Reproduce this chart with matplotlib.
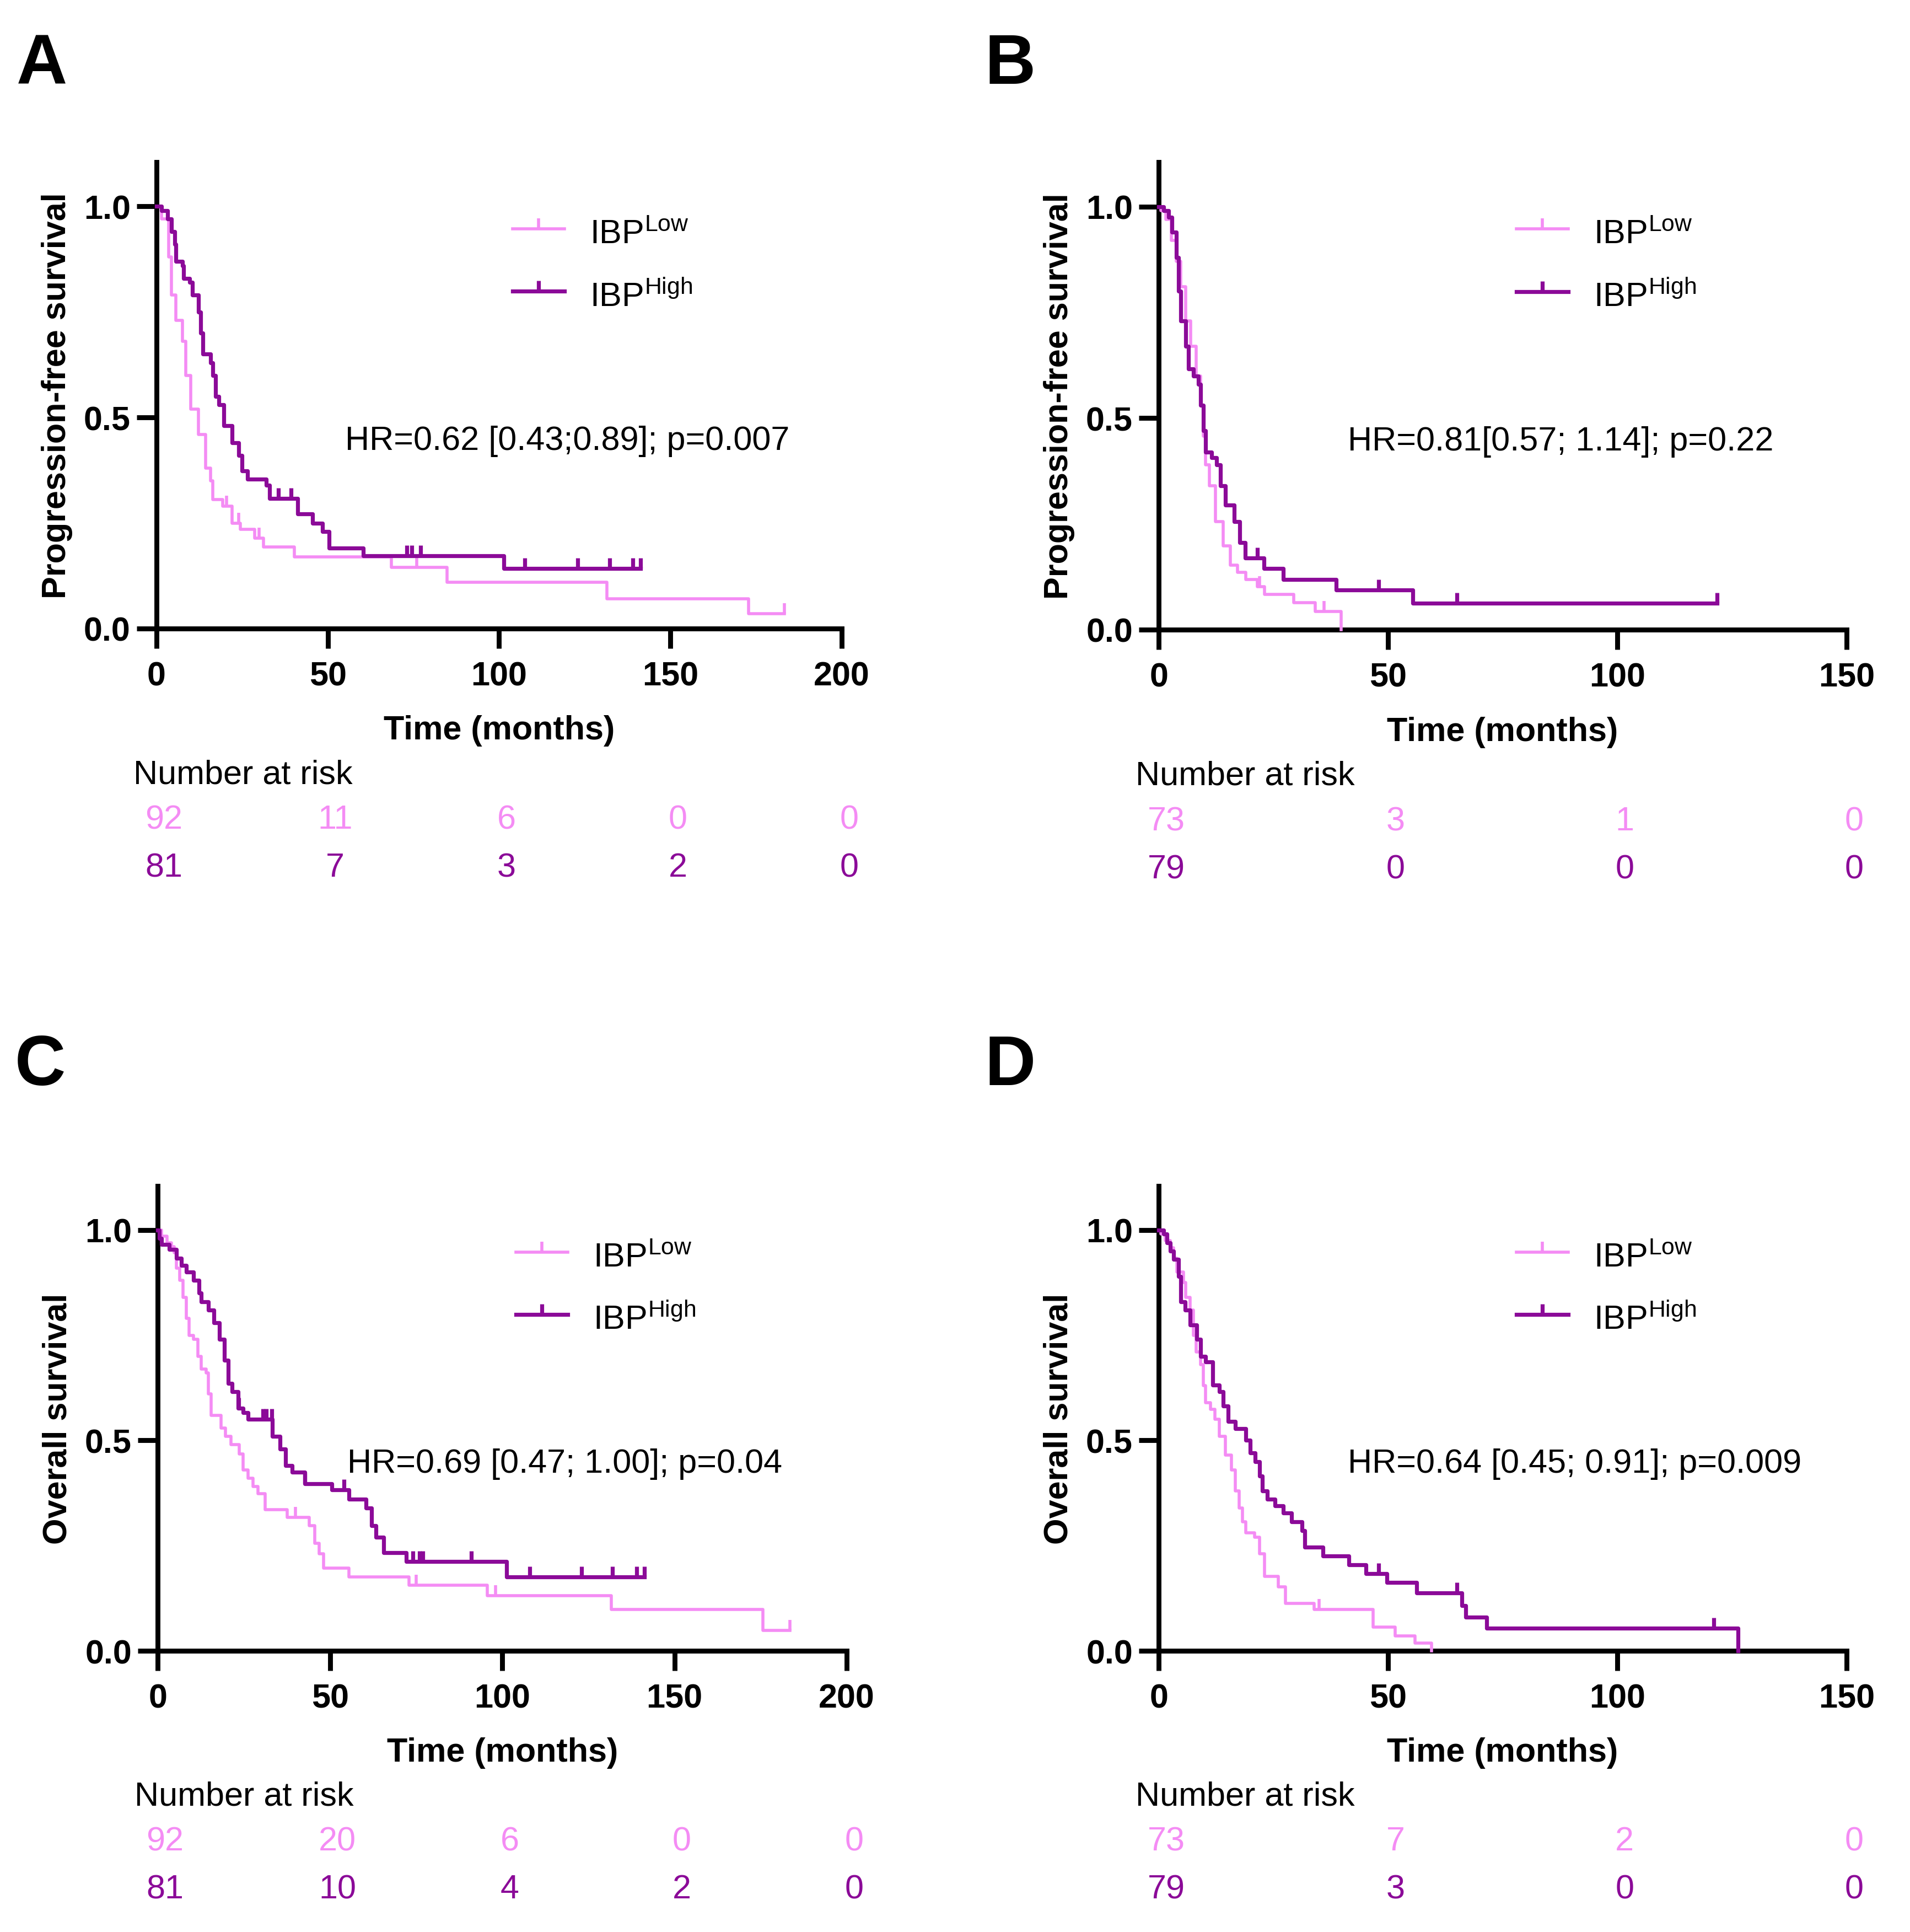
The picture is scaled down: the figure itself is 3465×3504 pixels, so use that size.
import numpy as np
import matplotlib
matplotlib.use("Agg")
import matplotlib.pyplot as plt
from matplotlib import transforms

plt.rcParams["font.family"] = ["Liberation Sans", "DejaVu Sans"]
plt.rcParams["mathtext.fontset"] = "custom"
plt.rcParams["mathtext.rm"] = "Liberation Sans"
plt.rcParams["mathtext.it"] = "Liberation Sans:italic"
plt.rcParams["mathtext.bf"] = "Liberation Sans:bold"

PINK = "#F48CF4"
PURPLE = "#8B0A98"

# ---- panel A: progression-free survival, cohort 1
a_low_t = [0, 1.4, 3.6, 4.3, 5.7, 7.6, 8.6, 10.0, 12.2, 14.4, 15.8, 16.5, 19.4, 22.0, 24.4,
           28.7, 31.2, 40.2, 68.5, 84.8, 131.5, 172.8]
a_low_s = [1.0, 0.97, 0.88, 0.79, 0.73, 0.68, 0.60, 0.52, 0.46, 0.38, 0.35, 0.306, 0.29, 0.25,
           0.235, 0.214, 0.193, 0.170, 0.145, 0.109, 0.071, 0.035]
a_low_end = 183.2
a_low_cens = [20.5, 24.0, 30.0, 76.0, 183.2]
a_high_t = [0, 1.4, 3.3, 4.3, 5.3, 5.7, 7.6, 7.9, 9.6, 10.5, 12.2, 12.9, 13.6, 15.8, 16.5, 17.2,
            18.2, 19.7, 22.0, 24.0, 24.9, 26.6, 32.0, 33.0, 41.2, 45.5, 48.4, 50.3, 60.3, 101.3]
a_high_s = [1.0, 0.99, 0.97, 0.94, 0.91, 0.87, 0.86, 0.83, 0.82, 0.79, 0.75, 0.70, 0.65, 0.63,
            0.60, 0.55, 0.53, 0.48, 0.44, 0.41, 0.373, 0.354, 0.34, 0.308, 0.272, 0.25, 0.23,
            0.19, 0.172, 0.142]
a_high_end = 141.2
a_high_cens = [35.6, 39.2, 73.0, 74.5, 77.0, 107.5, 123.0, 132.2, 139.0, 141.2]
a_hr = "HR=0.62 [0.43;0.89]; p=0.007"
a_risk_low = [92, 11, 6, 0, 0]
a_risk_high = [81, 7, 3, 2, 0]

# ---- panel B: progression-free survival, cohort 2
b_low_t = [0, 0.5, 1.6, 2.7, 3.8, 4.8, 5.9, 7.0, 8.1, 9.1, 9.7, 10.2, 11.1, 12.4, 14.0, 15.6,
           17.2, 19.0, 21.5, 23.1, 29.4, 34.1, 39.8]
b_low_s = [1.0, 0.99, 0.97, 0.92, 0.87, 0.81, 0.73, 0.67, 0.60, 0.53, 0.457, 0.39, 0.34, 0.256,
           0.198, 0.152, 0.135, 0.119, 0.102, 0.084, 0.064, 0.043, 0.0]
b_low_end = 39.8
b_low_cens = [22.0, 36.0]
b_high_t = [0, 1.1, 2.2, 2.9, 3.8, 4.3, 4.8, 5.9, 6.5, 7.5, 8.6, 9.1, 9.7, 10.2, 11.5, 12.6,
            13.4, 14.5, 16.5, 17.7, 18.8, 22.9, 27.2, 38.7, 55.4]
b_high_s = [1.0, 0.99, 0.975, 0.94, 0.88, 0.80, 0.73, 0.67, 0.616, 0.60, 0.58, 0.53, 0.47, 0.42,
            0.407, 0.39, 0.34, 0.294, 0.256, 0.206, 0.169, 0.144, 0.119, 0.094, 0.063]
b_high_end = 121.8
b_high_cens = [21.5, 48.0, 65.0, 121.8]
b_hr = "HR=0.81[0.57; 1.14]; p=0.22"
b_risk_low = [73, 3, 1, 0]
b_risk_high = [79, 0, 0, 0]

# ---- panel C: overall survival, cohort 1
c_low_t = [0, 1.1, 2.6, 4.0, 4.7, 5.4, 6.4, 7.3, 8.3, 9.0, 10.4, 11.6, 12.6, 14.0, 14.7, 15.5,
           18.3, 19.7, 21.2, 23.6, 24.7, 26.2, 27.6, 29.0, 31.2, 37.6, 44.0, 45.5, 46.9, 48.1,
           55.5, 73.0, 95.6, 131.6, 175.7]
c_low_s = [1.0, 0.985, 0.97, 0.96, 0.946, 0.91, 0.88, 0.84, 0.79, 0.75, 0.74, 0.70, 0.67, 0.66,
           0.61, 0.56, 0.53, 0.51, 0.49, 0.468, 0.43, 0.41, 0.39, 0.373, 0.336, 0.317, 0.298,
           0.256, 0.23, 0.197, 0.176, 0.156, 0.131, 0.098, 0.048]
c_low_end = 183.5
c_low_cens = [40.0, 75.0, 98.0, 183.5]
c_high_t = [0, 0.4, 1.1, 3.3, 5.4, 6.9, 8.3, 10.4, 11.9, 12.6, 14.7, 16.2, 17.9, 19.3, 20.5,
            21.6, 23.3, 24.7, 26.2, 33.3, 35.5, 37.0, 39.0, 42.6, 50.5, 55.5, 60.5, 62.0, 63.4,
            65.5, 72.2, 101.3]
c_high_s = [1.0, 0.98, 0.966, 0.954, 0.933, 0.916, 0.90, 0.88, 0.85, 0.83, 0.81, 0.78, 0.74,
            0.69, 0.635, 0.616, 0.576, 0.566, 0.55, 0.51, 0.48, 0.44, 0.424, 0.397, 0.382, 0.36,
            0.34, 0.298, 0.27, 0.233, 0.212, 0.175]
c_high_end = 141.3
c_high_cens = [23.5, 30.5, 31.5, 33.0, 42.6, 54.0, 74.0, 76.0, 77.0, 91.0, 108.0, 123.0, 132.0,
               139.0, 141.3]
c_hr = "HR=0.69 [0.47; 1.00]; p=0.04"
c_risk_low = [92, 20, 6, 0, 0]
c_risk_high = [81, 10, 4, 2, 0]

# ---- panel D: overall survival, cohort 2
d_low_t = [0, 0.5, 1.4, 2.5, 3.2, 4.0, 5.4, 5.9, 6.8, 7.5, 8.1, 9.1, 9.7, 10.2, 11.3, 12.2,
           13.2, 14.5, 15.8, 16.7, 17.5, 18.3, 19.0, 20.9, 22.0, 23.1, 26.1, 27.6, 33.9, 46.8,
           51.6, 55.9, 59.5]
d_low_s = [1.0, 0.99, 0.975, 0.958, 0.933, 0.90, 0.875, 0.84, 0.81, 0.75, 0.71, 0.68, 0.63,
           0.59, 0.574, 0.55, 0.51, 0.465, 0.43, 0.38, 0.34, 0.306, 0.28, 0.27, 0.231, 0.177,
           0.152, 0.113, 0.098, 0.056, 0.035, 0.018, 0.0]
d_low_end = 59.5
d_low_cens = [35.0]
d_high_t = [0, 1.1, 1.8, 2.5, 3.2, 4.3, 4.8, 5.7, 6.8, 8.3, 9.1, 10.2, 11.8, 13.2, 14.0, 15.1,
            16.7, 19.0, 19.9, 21.0, 22.0, 22.6, 23.7, 25.3, 27.2, 29.0, 31.2, 31.9, 35.8, 41.4,
            45.2, 49.8, 56.2, 66.1, 67.0, 71.5, 126.3]
d_high_s = [1.0, 0.99, 0.97, 0.95, 0.93, 0.89, 0.83, 0.81, 0.775, 0.74, 0.70, 0.686, 0.632,
            0.616, 0.582, 0.545, 0.528, 0.50, 0.47, 0.45, 0.415, 0.38, 0.36, 0.344, 0.327, 0.307,
            0.286, 0.246, 0.226, 0.205, 0.184, 0.163, 0.137, 0.108, 0.08, 0.054, 0.0]
d_high_end = 126.3
d_high_cens = [48.0, 65.0, 121.0]
d_hr = "HR=0.64 [0.45; 0.91]; p=0.009"
d_risk_low = [73, 7, 2, 0]
d_risk_high = [79, 3, 0, 0]

ticks_200 = [0, 50, 100, 150, 200]
ticks_150 = [0, 50, 100, 150]

LW_LOW = 2.0
LW_HIGH = 2.6


def draw_km(ax, t, s, end, cens, color, lw):
    tt = list(t) + [end]
    ss = list(s) + [s[-1]]
    ax.step(tt, ss, where="post", color=color, lw=lw, clip_on=False, zorder=3)
    idx = np.searchsorted(t, cens, side="right") - 1
    cs = np.array(s)[idx]
    ax.plot(cens, cs, ls="none", marker=2, ms=7, mew=lw, color=color, clip_on=False, zorder=3)


def panel(rect, letter, letter_xy, low, high, hr, ticks, risk_low, risk_high, ylabel):
    ax = fig.add_axes(rect)
    draw_km(ax, *low, PINK, LW_LOW)
    draw_km(ax, *high, PURPLE, LW_HIGH)

    ax.set_xlim(0, ticks[-1])
    ax.set_ylim(0, 1.105)
    ax.spines["top"].set_visible(False)
    ax.spines["right"].set_visible(False)
    for sp in ("left", "bottom"):
        ax.spines[sp].set_linewidth(3.2)
    ax.set_xticks(ticks)
    ax.set_yticks([0, 0.5, 1.0])
    ax.set_yticklabels(["0.0", "0.5", "1.0"])
    ax.tick_params(direction="out", length=13, width=3.2, labelsize=22, pad=4)
    ax.tick_params(axis="x", pad=8)
    for lab in ax.get_xticklabels() + ax.get_yticklabels():
        lab.set_fontweight("bold")

    ax.set_xlabel("Time (months)", fontsize=22, fontweight="bold")
    ax.xaxis.set_label_coords(0.5, -0.185)
    ax.set_ylabel(ylabel, fontsize=22, fontweight="bold")
    ax.yaxis.set_label_coords(-0.122, 0.5)

    # legend drawn by hand so the censor tick points upward like the original
    for yy, col, lw, name in [(0.857, PINK, LW_LOW, "Low"), (0.723, PURPLE, LW_HIGH, "High")]:
        ax.plot([0.52, 0.595], [yy, yy], color=col, lw=lw, transform=ax.transAxes, clip_on=False)
        ax.plot([0.5575], [yy], ls="none", marker=2, ms=7, mew=lw, color=col,
                transform=ax.transAxes, clip_on=False)
        ax.text(0.632, yy - 0.012, r"IBP$^{\mathrm{%s}}$" % name, fontsize=22,
                transform=ax.transAxes, ha="left", va="center")

    ax.text(0.275, 0.403, hr, fontsize=22, transform=ax.transAxes, ha="left", va="center")

    ax.text(-0.034, -0.313, "Number at risk", fontsize=22, transform=ax.transAxes,
            ha="left", va="center")
    trans = transforms.blended_transform_factory(ax.transData, ax.transAxes)
    trans = transforms.offset_copy(trans, fig=fig, x=4.8, y=0, units="points")
    for x, n in zip(ticks, risk_low):
        ax.text(x, -0.41, str(n), color=PINK, fontsize=22, transform=trans,
                ha="center", va="center", clip_on=False)
    for x, n in zip(ticks, risk_high):
        ax.text(x, -0.513, str(n), color=PURPLE, fontsize=22, transform=trans,
                ha="center", va="center", clip_on=False)

    fig.text(letter_xy[0], letter_xy[1], letter, fontsize=46, fontweight="bold",
             ha="left", va="baseline")
    return ax


fig = plt.figure(figsize=(17.33, 17.525), dpi=200)

panel([0.0819, 0.6745, 0.3587, 0.2413], "A", (0.0085, 0.9566),
      (a_low_t, a_low_s, a_low_end, a_low_cens),
      (a_high_t, a_high_s, a_high_end, a_high_cens),
      a_hr, ticks_200, a_risk_low, a_risk_high, "Progression-free survival")
panel([0.6065, 0.6739, 0.3600, 0.2419], "B", (0.5155, 0.9566),
      (b_low_t, b_low_s, b_low_end, b_low_cens),
      (b_high_t, b_high_s, b_high_end, b_high_cens),
      b_hr, ticks_150, b_risk_low, b_risk_high, "Progression-free survival")
panel([0.0826, 0.1455, 0.3606, 0.2406], "C", (0.0077, 0.4384),
      (c_low_t, c_low_s, c_low_end, c_low_cens),
      (c_high_t, c_high_s, c_high_end, c_high_cens),
      c_hr, ticks_200, c_risk_low, c_risk_high, "Overall survival")
panel([0.6065, 0.1455, 0.3600, 0.2406], "D", (0.5155, 0.4384),
      (d_low_t, d_low_s, d_low_end, d_low_cens),
      (d_high_t, d_high_s, d_high_end, d_high_cens),
      d_hr, ticks_150, d_risk_low, d_risk_high, "Overall survival")

fig.savefig("out.png", dpi=200, facecolor="white")
